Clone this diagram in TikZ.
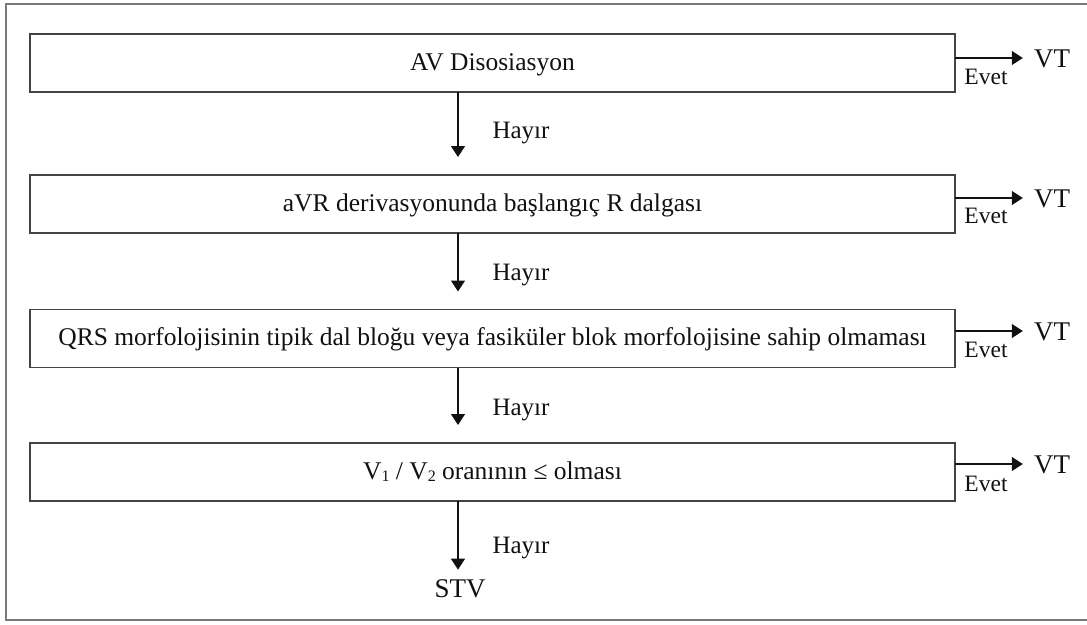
\documentclass[tikz,border=0pt]{standalone}
\usepackage{fontspec}
\setmainfont{Liberation Serif}
\usetikzlibrary{arrows.meta,calc}
\definecolor{boxline}{HTML}{444444}
\definecolor{frameline}{HTML}{7A7A7A}
\definecolor{ink}{HTML}{111111}
\newcommand{\lowsub}[1]{\raisebox{-0.1em}{\fontsize{16}{16}\selectfont #1}}
\begin{document}
\begin{tikzpicture}[x=1pt,y=-1pt,
  stepbox/.style={draw=boxline,line width=1.4pt,minimum width=925pt,minimum height=58pt,
    inner sep=0pt,outer sep=0pt,font=\fontsize{25.5}{28}\selectfont,text=ink,
    text height=16pt,text depth=2pt},
  arr/.style={draw=ink,line width=1.2pt,-{Triangle[width=14pt,length=11pt]}},
  lbl/.style={font=\fontsize{25}{28}\selectfont,text=ink,inner sep=0pt},
  vt/.style={font=\fontsize{27}{30}\selectfont,text=ink,inner sep=0pt},
  ev/.style={font=\fontsize{23.5}{26}\selectfont,text=ink,inner sep=0pt}]
\useasboundingbox (0,0) rectangle (1087,624);
\draw[frameline,line width=2pt] (1087,4) -- (6,4) -- (6,620) -- (1087,620);

\node[stepbox] (b1) at (492.5,63) {AV Disosiasyon};
\node[stepbox] (b2) at (492.5,204) {aVR derivasyonunda başlangıç R dalgası};
\node[stepbox] (b3) at (492.5,338.5) {QRS morfolojisinin tipik dal bloğu veya fasiküler blok morfolojisine sahip olmaması};
\node[stepbox] (b4) at (492.5,472) {V\lowsub{1} / V\lowsub{2} oranının ≤ olması};

\coordinate (ax) at (458,0);
\draw[arr] (b1.south -| ax) -- ([yshift=18pt]b2.north -| ax);
\draw[arr] (b2.south -| ax) -- ([yshift=18pt]b3.north -| ax);
\draw[arr] (b3.south -| ax) -- ([yshift=18pt]b4.north -| ax);
\node[vt] (stv) at (460,589) {STV};
\draw[arr] (b4.south -| ax) -- ([yshift=10pt]stv.north -| ax);

\node[lbl] (h1) at (521,133) {Hayır};
\node[lbl] (h2) at (521,275) {Hayır};
\node[lbl] (h3) at (521,410) {Hayır};
\node[lbl] (h4) at (521,548) {Hayır};

\node[vt] (v1) at (1052,59) {VT};
\node[vt] (v2) at (1052,199) {VT};
\node[vt] (v3) at (1052,332) {VT};
\node[vt] (v4) at (1052,465) {VT};
\draw[arr] (b1.east |- 0,58) -- ([xshift=-11pt]v1.west |- 0,58);
\draw[arr] (b2.east |- 0,198) -- ([xshift=-11pt]v2.west |- 0,198);
\draw[arr] (b3.east |- 0,331) -- ([xshift=-11pt]v3.west |- 0,331);
\draw[arr] (b4.east |- 0,464) -- ([xshift=-11pt]v4.west |- 0,464);

\node[ev] (e1) at (986,77) {Evet};
\node[ev] (e2) at (986,216) {Evet};
\node[ev] (e3) at (986,350) {Evet};
\node[ev] (e4) at (986,484) {Evet};
\end{tikzpicture}
\end{document}
